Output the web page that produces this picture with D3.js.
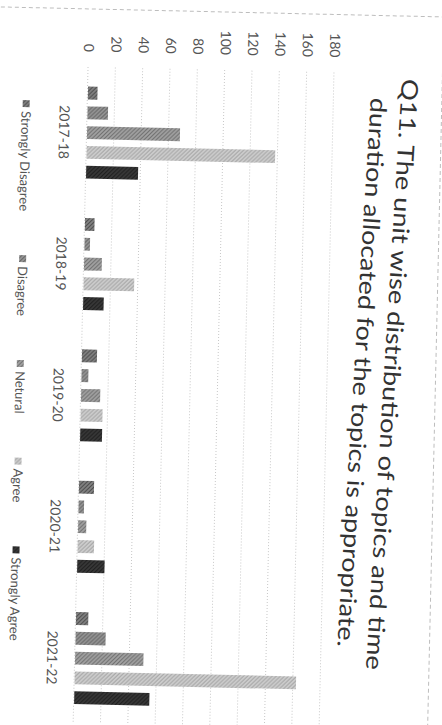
<!DOCTYPE html>
<html lang="en">
<head>
    <meta charset="utf-8">
    <title>Q11 unit wise distribution</title>
    <style>
        body{ margin:0; background:#fff; font-family: Lato, sans-serif;}
        .grid line{ stroke:#c8c8c8; stroke-dasharray:1,2; }
    </style>
    <script type="text/javascript" src="https://d3js.org/d3.v7.min.js"></script>
</head>
<body>
    <div class="chart"></div>
    <script type="text/javascript">
        // data
        const categories = ["2017-18", "2018-19", "2019-20", "2020-21", "2021-22"];
        const seriesNames = ["Strongly Disagree", "Disagree", "Netural", "Agree", "Strongly Agree"];
        const stronglyDisagree = [7, 7, 11, 11, 9];
        const disagree = [15, 4, 5, 4, 22];
        const neutral = [68, 13, 14, 6, 50];
        const agree = [138, 37, 16, 12, 162];
        const stronglyAgree = [38, 15, 16, 20, 55];
        const yTicks = [0, 20, 40, 60, 80, 100, 120, 140, 160, 180];
        const titleLines = ["Q11. The unit wise distribution of topics and time",
                            "duration allocated for the topics is appropriate."];

        const seriesValues = [stronglyDisagree, disagree, neutral, agree, stronglyAgree];
        const table = categories.map((c, i) => {
            const row = {category: c};
            seriesNames.forEach((s, j) => row[s] = seriesValues[j][i]);
            return row;
        });

        // the page is photographed turned a quarter turn (and a little askew),
        // so draw upright then rotate
        const W = 725, H = 442;
        const plotLeft = 70, plotRight = 727;

        var svg = d3.select('.chart')
            .append('svg')
            .attr('width', 442)
            .attr('height', 725)
            .style('display', 'block');

        const defs = svg.append('defs');
        const fills = [
            {bg: '#858585', fg: '#4a4a4a'},
            {bg: '#9a9a9a', fg: '#606060'},
            {bg: '#a4a4a4', fg: '#6e6e6e'},
            {bg: '#d2d2d2', fg: '#a0a0a0'},
            {bg: '#3a3a3a', fg: '#1c1c1c'}
        ];
        fills.forEach((f, i) => {
            const p = defs.append('pattern')
                .attr('id', 'hatch' + i)
                .attr('patternUnits', 'userSpaceOnUse')
                .attr('width', 4).attr('height', 4);
            p.append('rect').attr('width', 4).attr('height', 4).attr('fill', f.bg);
            p.append('path')
                .attr('d', 'M0,0 L4,4 M-1,3 L1,5 M3,-1 L5,1')
                .attr('stroke', f.fg).attr('stroke-width', 1.1);
        });

        var g = svg.append('g')
            .attr('transform', 'rotate(1.3,221,400)')
            .append('g')
            .attr('transform', 'translate(442,0) rotate(90)');

        // chart area border
        g.append('rect')
            .attr('x', 12).attr('y', 7)
            .attr('width', W + 40).attr('height', H + 40)
            .attr('fill', 'none')
            .attr('stroke', '#bdbdbd')
            .attr('stroke-dasharray', '4,3');

        const x0 = d3.scaleBand()
            .domain(categories)
            .range([plotLeft, plotRight])
            .paddingInner(0.3)
            .paddingOuter(0.15);
        const x1 = d3.scaleBand()
            .domain(seriesNames)
            .range([0, x0.bandwidth()])
            .paddingInner(0.35);
        const yScale = d3.scaleLinear()
            .domain([0, 180])
            .range([361, 115]);
        const colorScale = d3.scaleOrdinal()
            .domain(seriesNames)
            .range(fills.map((f, i) => 'url(#hatch' + i + ')'));

        const yAxis = d3.axisLeft(yScale)
            .tickValues(yTicks)
            .tickSizeInner(-(plotRight - plotLeft))
            .tickSizeOuter(0)
            .tickPadding(15);

        var yAxisDisplay = g.append('g')
            .attr('class', 'grid')
            .attr('transform', `translate(${plotLeft},0)`)
            .call(yAxis);
        yAxisDisplay.select('.domain').remove();
        yAxisDisplay.selectAll('text')
            .attr('font-family', 'Lato, sans-serif')
            .attr('font-size', 14)
            .attr('fill', '#555');

        var groups = g.selectAll('.grp')
            .data(table)
            .enter()
            .append('g')
            .attr('class', 'grp')
            .attr('transform', d => `translate(${x0(d.category)},0)`);

        groups.selectAll('rect')
            .data(d => seriesNames.map(s => ({key: s, value: d[s]})))
            .enter()
            .append('rect')
            .attr('x', d => x1(d.key))
            .attr('width', x1.bandwidth())
            .attr('y', d => yScale(d.value))
            .attr('height', d => yScale(0) - yScale(d.value))
            .attr('fill', d => colorScale(d.key));

        const xAxis = d3.axisBottom(x0).tickSize(0).tickPadding(18);
        var xAxisDisplay = g.append('g')
            .attr('transform', `translate(0,${yScale(0)})`)
            .call(xAxis);
        xAxisDisplay.select('.domain').remove();
        xAxisDisplay.selectAll('text')
            .attr('font-family', 'Lato, sans-serif')
            .attr('font-size', 14)
            .attr('fill', '#555');

        // title (the paper bends a bit more up here)
        var title = g.append('g')
            .attr('transform', 'rotate(2.2,380,65)');
        title.selectAll('text')
            .data(titleLines)
            .enter()
            .append('text')
            .attr('x', 370)
            .attr('y', (d, i) => 59 + i * 30)
            .attr('text-anchor', 'middle')
            .attr('font-family', 'Lato, sans-serif')
            .attr('font-size', 23)
            .attr('fill', '#333')
            .attr('textLength', (d, i) => i === 0 ? 592 : 550)
            .attr('lengthAdjust', 'spacingAndGlyphs')
            .text(d => d);

        // legend, laid out one after the other and centred
        var fontSize = 13;
        var legend = g.append('g');
        var items = legend.selectAll('g')
            .data(seriesNames)
            .enter()
            .append('g');
        items.append('rect')
            .attr('width', 7).attr('height', 7)
            .attr('y', -8)
            .attr('fill', d => colorScale(d));
        items.append('text')
            .attr('x', 11)
            .attr('font-family', 'Lato, sans-serif')
            .attr('font-size', fontSize)
            .attr('fill', '#555')
            .text(d => d);
        var widths = [];
        items.each(function() { widths.push(11 + this.querySelector('text').getComputedTextLength()); });
        const gap = 44;
        const total = d3.sum(widths) + gap * (widths.length - 1);
        let pos = 375 - total / 2;
        items.attr('transform', (d, i) => {
            const t = `translate(${pos},427)`;
            pos += widths[i] + gap;
            return t;
        });

        // bit of page text cut at the corner
        g.append('text')
            .attr('x', 10).attr('y', 5)
            .attr('text-anchor', 'end')
            .attr('font-family', 'Lato, sans-serif')
            .attr('font-size', 14)
            .attr('fill', '#444')
            .text('appropriate.');
    </script>
</body>
</html>
